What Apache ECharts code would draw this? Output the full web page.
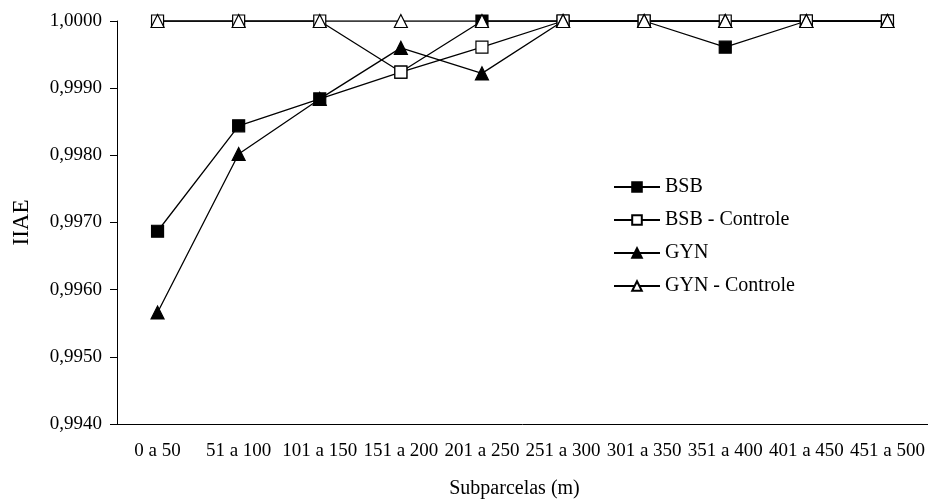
<!DOCTYPE html>
<html>
<head>
<meta charset="utf-8">
<script src="https://cdn.jsdelivr.net/npm/echarts@6/dist/echarts.min.js"></script>
<style>
  html, body { margin: 0; padding: 0; background: #fff; }
  #chart { width: 928px; height: 504px; }
</style>
</head>
<body>
<div id="chart"></div>
<script>
const categories = ['0 a 50', '51 a 100', '101 a 150', '151 a 200', '201 a 250',
    '251 a 300', '301 a 350', '351 a 400', '401 a 450', '451 a 500']
const bsb = [0.99687, 0.99844, 0.99884, 0.99924, 1.0, 1.0, 1.0, 0.99961, 1.0, 1.0]
const bsbControle = [1.0, 1.0, 1.0, 0.99924, 0.99961, 1.0, 1.0, 1.0, 1.0, 1.0]
const gyn = [0.99566, 0.99802, 0.99884, 0.99960, 0.99922, 1.0, 1.0, 1.0, 1.0, 1.0]
const gynControle = [1.0, 1.0, 1.0, 1.0, 1.0, 1.0, 1.0, 1.0, 1.0, 1.0]

const font = 'Liberation Serif'

function makeSeries(name, data, symbol, filled, size) {
    return {
        name: name,
        type: 'line',
        data: data,
        symbol: symbol,
        symbolSize: size,
        showAllSymbol: true,
        lineStyle: { color: '#000', width: 1.3 },
        itemStyle: {
            color: filled ? '#000' : '#fff',
            borderColor: '#000',
            borderWidth: 1.2
        },
        emphasis: { disabled: true }
    }
}

const myChart = echarts.init(document.getElementById('chart'))
myChart.setOption({
    animation: false,
    grid: { left: 117, top: 21, bottom: 76, right: -10 },
    legend: {
        orient: 'vertical',
        left: 608,
        top: 172,
        itemWidth: 46,
        itemHeight: 12,
        itemGap: 13,
        textStyle: { fontFamily: font, fontSize: 20, color: '#000' },
        data: ['BSB', 'BSB - Controle', 'GYN', 'GYN - Controle']
    },
    xAxis: {
        type: 'category',
        data: categories,
        name: 'Subparcelas (m)',
        nameLocation: 'middle',
        nameGap: 55,
        nameTextStyle: { fontFamily: font, fontSize: 20, color: '#000', padding: [0, 16, 0, 0] },
        axisLine: { lineStyle: { color: '#000', width: 1 } },
        axisTick: { lineStyle: { color: '#000' }, length: 6 },
        axisLabel: { fontFamily: font, fontSize: 19, color: '#000', margin: 18, interval: 0 }
    },
    yAxis: {
        type: 'value',
        min: 0.994,
        max: 1.0,
        interval: 0.001,
        name: 'IIAE',
        nameLocation: 'middle',
        nameGap: 84,
        nameTextStyle: { fontFamily: font, fontSize: 23, color: '#000' },
        axisLine: { show: true, lineStyle: { color: '#000', width: 1 } },
        axisTick: { show: true, lineStyle: { color: '#000' }, length: 7 },
        splitLine: { show: false },
        axisLabel: {
            fontFamily: font, fontSize: 19, color: '#000', margin: 15,
            formatter: function (value) {
                return value.toFixed(4).replace('.', ',')
            }
        }
    },
    series: [
        makeSeries('BSB', bsb, 'rect', true, 12),
        makeSeries('BSB - Controle', bsbControle, 'rect', false, 12),
        makeSeries('GYN', gyn, 'triangle', true, 13),
        makeSeries('GYN - Controle', gynControle, 'triangle', false, 13)
    ]
})
</script>
</body>
</html>
